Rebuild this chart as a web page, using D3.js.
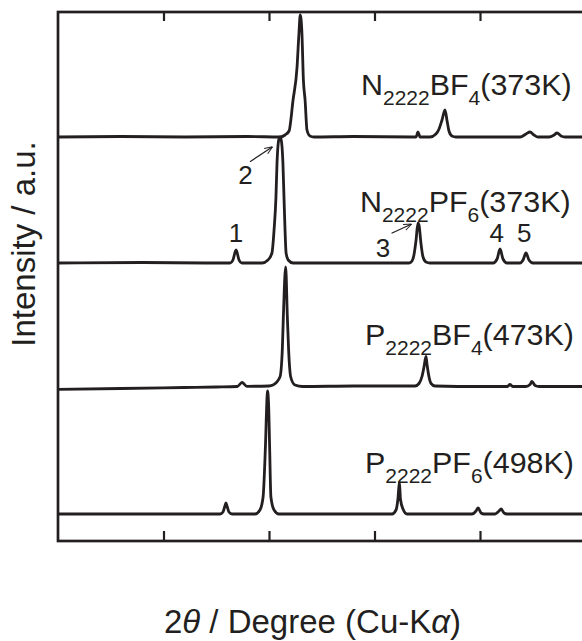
<!DOCTYPE html>
<html>
<head>
<meta charset="utf-8">
<script src="https://cdn.jsdelivr.net/npm/d3@7"></script>
<style>
  html, body { margin: 0; padding: 0; background: #fff; }
  svg { display: block; }
  text { font-family: "Liberation Sans", Arial, sans-serif; fill: #231f20; }
</style>
</head>
<body>
<svg id="chart" width="582" height="641"></svg>
<script>
// XRD patterns, [2theta (deg), intensity above own baseline (a.u.)]
const n2222bf4 = [[5,0],[8,0.5],[11,0],[14,0.5],[15.52,0],[15.76,2],[15.95,6],[16.14,37],[16.33,70],[16.42,104],[16.48,122],[16.56,104],[16.63,57],[16.71,37],[16.80,7],[16.94,1],[17.13,0],[19,0.5],[21.8,0],[21.97,0],[22.06,5],[22.16,0],[22.63,0],[22.91,3],[23.06,8],[23.20,17],[23.34,27],[23.44,16],[23.53,6],[23.67,1],[23.86,0],[26.90,0],[27.18,3],[27.37,5],[27.56,2],[27.75,0],[28.27,0],[28.51,2],[28.65,4],[28.84,1],[29.03,0],[30,0]];
const n2222pf6 = [[5,0],[9,0.5],[12,0],[13.15,0],[13.29,3],[13.44,13],[13.58,3],[13.72,0],[14.3,0],[14.67,0],[14.95,3],[15.14,10],[15.24,33],[15.33,66],[15.38,100],[15.47,124],[15.52,126],[15.57,124],[15.66,100],[15.71,66],[15.76,33],[15.81,10],[15.91,3],[16.14,0],[18,0],[21.64,0],[21.78,2],[21.87,8],[21.97,23],[22.06,40],[22.11,38],[22.20,20],[22.30,6],[22.44,1],[22.63,0],[25.62,0],[25.81,4],[25.95,14],[26.09,4],[26.28,0],[26.90,0],[27.04,3],[27.18,10],[27.32,3],[27.51,0],[30,0]];
const p2222bf4 = [[5,-0.8],[8,0],[11,1],[12.5,1.5],[13.5,2],[13.72,6],[13.95,2.2],[15.0,2.5],[15.19,3.5],[15.52,11.5],[15.63,38.5],[15.68,71.5],[15.79,121.5],[15.87,71.5],[15.93,38.5],[16.03,11.5],[16.23,3.5],[16.6,2],[19,2.5],[21.92,2.5],[22.11,5],[22.25,12],[22.35,22],[22.44,32],[22.49,24],[22.58,12],[22.68,5],[22.87,2.5],[25,2],[26.3,2],[26.42,4],[26.55,2],[27.18,2],[27.37,4],[27.46,7],[27.61,3],[27.80,2],[30,2]];
const p2222pf6 = [[5,0],[9,0],[12.68,0],[12.82,2],[12.91,8],[12.96,11],[13.01,8],[13.10,2],[13.25,0],[14.34,0],[14.57,4],[14.72,17],[14.83,67],[14.91,118],[14.93,123],[14.98,110],[15.03,67],[15.09,17],[15.24,4],[15.47,0],[18,0],[20.83,0],[21.02,4],[21.11,15],[21.18,32],[21.23,15],[21.35,5],[21.54,0],[24.62,0],[24.81,3],[24.91,6],[25.05,1],[25.19,0],[25.71,0],[25.90,3],[26.0,5],[26.14,1],[26.28,0],[30,0]];

const patterns = [n2222bf4, n2222pf6, p2222bf4, p2222pf6];
const offsets = [404, 278, 152.5, 27];
// sample names split into [text, subscript] parts
const sampleNames = [
  [["N", ""], ["2222", "sub"], ["BF", ""], ["4", "sub"], ["(373K)", ""]],
  [["N", ""], ["2222", "sub"], ["PF", ""], ["6", "sub"], ["(373K)", ""]],
  [["P", ""], ["2222", "sub"], ["BF", ""], ["4", "sub"], ["(473K)", ""]],
  [["P", ""], ["2222", "sub"], ["PF", ""], ["6", "sub"], ["(498K)", ""]]
];
const nameAnchors = [[19.36, 446], [19.31, 329], [19.55, 196], [19.55, 68]];
const xTicks = [10, 15, 20, 25];
const peakNumbers = [["1", 13.44, 299.3], ["2", 13.89, 357], ["3", 20.40, 284.3], ["4", 25.79, 299.3], ["5", 27.10, 299.3]];
const arrows = [[[14.10, 379.3], [15.17, 394.3]], [[20.81, 307.7], [21.76, 317]]];

const ink = "#231f20";
const svg = d3.select("#chart");

const x = d3.scaleLinear().domain([5, 30]).range([58, 585.5]);
const y = d3.scaleLinear().domain([0, 529]).range([541, 12]);

svg.append("defs").append("marker")
  .attr("id", "arr").attr("viewBox", "0 0 10 10")
  .attr("refX", 10).attr("refY", 5)
  .attr("markerWidth", 8).attr("markerHeight", 8)
  .attr("markerUnits", "userSpaceOnUse").attr("orient", "auto")
  .append("path").attr("d", "M0,1 L10,5 L0,9")
  .attr("fill", "none").attr("stroke", ink).attr("stroke-width", 1.2);

const line = d3.line().curve(d3.curveMonotoneX);

svg.append("g").selectAll("path")
  .data(patterns)
  .join("path")
  .attr("fill", "none")
  .attr("stroke", ink)
  .attr("stroke-width", 2.8)
  .attr("stroke-linejoin", "round")
  .attr("d", (d, i) => line(d.map(p => [x(p[0]), y(p[1] + offsets[i])])));

// frame + inward ticks
svg.append("rect")
  .attr("x", x(5)).attr("y", y(529))
  .attr("width", x(30) - x(5)).attr("height", y(0) - y(529))
  .attr("fill", "none").attr("stroke", ink).attr("stroke-width", 2.7);

const bottomAxis = svg.append("g").attr("transform", `translate(0,${y(0)})`)
  .call(d3.axisBottom(x).tickValues(xTicks).tickSizeInner(-10).tickSizeOuter(0).tickFormat(""));
const topAxis = svg.append("g").attr("transform", `translate(0,${y(529)})`)
  .call(d3.axisTop(x).tickValues(xTicks).tickSizeInner(-9).tickSizeOuter(0).tickFormat(""));
[bottomAxis, topAxis].forEach(a => {
  a.select(".domain").remove();
  a.selectAll(".tick line").attr("stroke", ink).attr("stroke-width", 2.2);
});

// sample labels
sampleNames.forEach((parts, i) => {
  const t = svg.append("text")
    .attr("transform", `translate(${x(nameAnchors[i][0])},${y(nameAnchors[i][1])}) scale(1.05,1)`)
    .attr("font-size", 29);
  let shifted = false;
  parts.forEach(([s, kind]) => {
    const sp = t.append("tspan").text(s);
    if (kind === "sub") {
      sp.attr("font-size", 20).attr("dy", shifted ? 0 : 10);
      shifted = true;
    } else {
      sp.attr("dy", shifted ? -10 : 0);
      shifted = false;
    }
  });
});

// peak numbers and arrows
svg.append("g").selectAll("text")
  .data(peakNumbers)
  .join("text")
  .attr("x", d => x(d[1])).attr("y", d => y(d[2]))
  .attr("text-anchor", "middle").attr("font-size", 26)
  .text(d => d[0]);

svg.append("g").selectAll("line")
  .data(arrows)
  .join("line")
  .attr("x1", d => x(d[0][0])).attr("y1", d => y(d[0][1]))
  .attr("x2", d => x(d[1][0])).attr("y2", d => y(d[1][1]))
  .attr("stroke", ink).attr("stroke-width", 1.2)
  .attr("marker-end", "url(#arr)");

// axis titles
const xt = svg.append("text")
  .attr("x", 312.5).attr("y", 633)
  .attr("text-anchor", "middle").attr("font-size", 33);
xt.append("tspan").text("2");
xt.append("tspan").attr("font-style", "italic").text("θ");
xt.append("tspan").text(" / Degree (Cu-K");
xt.append("tspan").attr("font-style", "italic").text("α");
xt.append("tspan").text(")");

svg.append("text")
  .attr("transform", "translate(35,244) rotate(-90)")
  .attr("text-anchor", "middle").attr("font-size", 33)
  .text("Intensity / a.u.");
</script>
</body>
</html>
